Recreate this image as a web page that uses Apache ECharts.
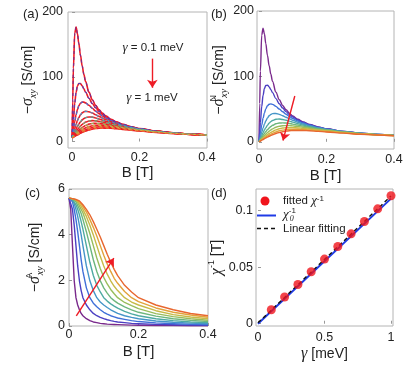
<!DOCTYPE html>
<html><head><meta charset="utf-8">
<script src="https://cdn.jsdelivr.net/npm/echarts@6/dist/echarts.min.js"></script>
<style>html,body{margin:0;padding:0;background:#fff}#c{width:409px;height:368px}</style>
</head><body><div id="c"></div>
<script>
// ---------- data ----------
const B_AB = [0,0.002,0.004,0.008,0.012,0.016,0.02,0.025,0.03,0.035,0.04,0.05,0.06,0.07,0.08,0.09,0.1,0.115,0.13,0.15,0.175,0.2,0.25,0.3,0.35,0.4];
// panel (a): total -sigma_xy, gamma = 0.1 ... 1 meV
const tot01 = [5.6,64.2,113.2,167.3,176.6,166.6,151.5,133.0,117.0,103.8,92.9,76.3,64.5,55.8,49.1,43.8,39.6,34.5,30.6,26.5,22.8,19.9,16.0,13.3,11.4,10.0];
const tot02 = [5.6,20.6,34.9,59.3,76.2,85.7,89.6,89.4,86.0,81.3,76.4,66.9,58.8,52.2,46.7,42.1,38.3,33.7,30.0,26.3,22.6,19.8,16.0,13.4,11.4,10.0];
const tot03 = [5.6,12.3,18.9,31.0,41.3,49.3,55.0,59.2,60.9,60.9,59.7,55.9,51.3,47.0,43.1,39.5,36.3,32.4,29.1,25.6,22.3,19.6,15.8,13.3,11.4,10.0];
const tot04 = [5.6,9.4,13.1,20.2,26.7,32.3,36.9,41.3,44.2,45.9,46.6,46.0,44.0,41.4,38.8,36.3,33.9,30.8,27.9,24.9,21.8,19.3,15.7,13.2,11.3,10.0];
const tot05 = [5.6,8.0,10.4,15.0,19.4,23.4,26.9,30.5,33.4,35.5,36.8,37.9,37.6,36.3,34.8,33.1,31.3,28.8,26.6,23.9,21.2,19.0,15.5,13.1,11.3,9.9];
const tot06 = [5.6,7.3,8.9,12.2,15.3,18.3,20.9,23.9,26.3,28.3,29.9,31.6,32.2,31.9,31.1,30.0,28.8,26.9,25.1,22.9,20.5,18.5,15.3,13.0,11.2,9.9];
const tot07 = [5.6,6.8,8.1,10.5,12.7,15.0,17.1,19.5,21.5,23.3,24.8,26.8,27.9,28.1,27.8,27.3,26.4,25.0,23.6,21.8,19.8,18.0,15.0,12.8,11.2,9.9];
const tot08 = [5.6,6.5,7.5,9.4,11.2,12.8,14.5,16.5,18.1,19.6,21.0,23.0,24.3,25.0,25.0,24.8,24.4,23.3,22.2,20.8,19.0,17.4,14.8,12.7,11.1,9.8];
const tot09 = [5.6,6.3,7.1,8.6,10.0,11.3,12.7,14.3,15.7,17.0,18.2,20.1,21.5,22.2,22.7,22.6,22.4,21.8,20.9,19.8,18.2,16.9,14.5,12.5,11.0,9.8];
const tot10 = [5.6,6.2,6.8,8.0,9.2,10.2,11.4,12.7,14.0,15.1,16.1,17.8,19.2,20.0,20.5,20.8,20.7,20.4,19.8,18.8,17.5,16.2,14.1,12.3,10.9,9.7];
// panel (b): normal part
const nor01 = [0,58.7,107.9,163.1,173.8,164.8,150.3,132.1,116.3,103.2,92.4,76.0,64.3,55.6,49.0,43.7,39.5,34.4,30.5,26.5,22.8,19.9,16.0,13.3,11.4,10.0];
const nor02 = [0,15.0,29.4,54.0,71.3,81.5,86.1,86.7,84.0,79.8,75.2,66.0,58.1,51.6,46.2,41.7,38.0,33.4,29.8,26.1,22.5,19.7,15.9,13.3,11.4,10.0];
const nor03 = [0,6.7,13.3,25.5,36.0,44.3,50.3,55.1,57.4,58.0,57.3,54.2,50.1,46.0,42.2,38.8,35.7,31.9,28.7,25.3,22.0,19.4,15.7,13.2,11.3,9.9];
const nor04 = [0,3.8,7.5,14.7,21.2,27.0,31.8,36.5,39.8,41.9,43.1,43.3,42.0,39.9,37.6,35.2,33.0,30.0,27.3,24.4,21.4,19.0,15.5,13.0,11.2,9.9];
const nor05 = [0,2.4,4.8,9.5,13.9,18.0,21.6,25.4,28.5,30.9,32.6,34.4,34.8,34.1,33.0,31.6,30.1,27.8,25.7,23.2,20.6,18.5,15.2,12.9,11.1,9.8];
const nor06 = [0,1.7,3.3,6.6,9.8,12.8,15.5,18.6,21.2,23.4,25.2,27.5,28.7,29.0,28.7,28.0,27.1,25.6,24.0,22.0,19.8,17.9,14.9,12.7,11.0,9.7];
const nor07 = [0,1.2,2.5,4.9,7.2,9.5,11.6,14.1,16.3,18.2,19.8,22.3,23.8,24.6,24.8,24.7,24.3,23.3,22.2,20.7,18.9,17.2,14.5,12.4,10.9,9.6];
const nor08 = [0,0.9,1.9,3.8,5.6,7.3,9.0,11.0,12.8,14.4,15.9,18.2,19.9,21.0,21.5,21.7,21.7,21.2,20.5,19.4,17.9,16.5,14.1,12.2,10.7,9.5];
const nor09 = [0,0.7,1.5,3.0,4.4,5.8,7.2,8.8,10.3,11.7,13.0,15.1,16.8,17.9,18.7,19.1,19.3,19.2,18.8,18.1,16.9,15.8,13.7,11.9,10.5,9.4];
const nor10 = [0,0.6,1.2,2.4,3.6,4.7,5.9,7.2,8.5,9.7,10.8,12.7,14.3,15.4,16.3,16.9,17.2,17.4,17.3,16.8,16.0,15.0,13.2,11.6,10.3,9.2];
// panel (c): anomalous part
const B_C = [0,0.005,0.01,0.015,0.02,0.025,0.03,0.035,0.04,0.05,0.06,0.07,0.08,0.09,0.1,0.11,0.12,0.13,0.14,0.16,0.18,0.2,0.25,0.3,0.35,0.4];
const ano01 = [5.6,5.11,3.52,1.98,1.24,0.92,0.71,0.55,0.45,0.32,0.235,0.177,0.146,0.116,0.098,0.083,0.072,0.066,0.06,0.048,0.038,0.033,0.024,0.018,0.014,0.01];
const ano02 = [5.6,5.52,5.11,4.41,3.52,2.63,1.98,1.55,1.24,0.92,0.71,0.55,0.45,0.376,0.32,0.274,0.235,0.204,0.177,0.146,0.116,0.098,0.069,0.054,0.039,0.033];
const ano03 = [5.6,5.56,5.44,5.11,4.67,4.13,3.52,2.90,2.39,1.67,1.24,1.00,0.84,0.71,0.60,0.52,0.45,0.40,0.35,0.29,0.235,0.194,0.136,0.098,0.074,0.064];
const ano04 = [5.6,5.575,5.52,5.36,5.11,4.80,4.41,3.99,3.52,2.63,1.98,1.55,1.24,1.05,0.92,0.81,0.71,0.63,0.55,0.45,0.376,0.32,0.22,0.162,0.124,0.098];
const ano05 = [5.6,5.58,5.54,5.48,5.31,5.11,4.87,4.57,4.24,3.52,2.79,2.21,1.78,1.49,1.24,1.09,0.97,0.87,0.78,0.64,0.53,0.45,0.32,0.235,0.177,0.146];
const ano06 = [5.6,5.585,5.56,5.52,5.44,5.28,5.11,4.93,4.67,4.13,3.52,2.90,2.39,1.98,1.67,1.44,1.24,1.11,1.00,0.84,0.71,0.60,0.43,0.32,0.245,0.194];
const ano07 = [5.6,5.59,5.57,5.54,5.50,5.40,5.26,5.11,4.96,4.52,4.05,3.52,2.98,2.52,2.13,1.84,1.60,1.41,1.24,1.03,0.89,0.76,0.54,0.41,0.32,0.25];
const ano08 = [5.6,5.59,5.575,5.55,5.52,5.46,5.36,5.24,5.11,4.80,4.41,3.99,3.52,3.05,2.63,2.27,1.98,1.74,1.55,1.24,1.05,0.92,0.67,0.50,0.395,0.32];
const ano09 = [5.6,5.59,5.58,5.56,5.53,5.505,5.44,5.34,5.23,4.99,4.67,4.32,3.94,3.52,3.10,2.72,2.39,2.09,1.87,1.51,1.24,1.07,0.79,0.60,0.48,0.384];
const ano10 = [5.6,5.59,5.58,5.565,5.54,5.52,5.48,5.41,5.31,5.11,4.87,4.57,4.24,3.90,3.52,3.14,2.79,2.48,2.21,1.78,1.49,1.24,0.92,0.71,0.55,0.45];
// panel (d)
const gammaFit = [0.1,0.2,0.3,0.4,0.5,0.6,0.7,0.8,0.9,1.0];
const chiInvFit = [0.0124,0.0236,0.0347,0.0459,0.0571,0.0682,0.0794,0.0903,0.1015,0.113];
const gammaLine = [0, 1];
const chi0Inv = [0, 0.1105];
const linFit = [0.0008, 0.1128];
// tick labels
const ticksB = [0, 0.2, 0.4];
const ticksAB_y = [0, 100, 200];
const ticksC_y = [0, 2, 4, 6];
const ticksD_x = [0, 0.5, 1];
const ticksD_y = [0, 0.05, 0.1];
// arrows (data coordinates)
const arrowA = [[0.238, 128], [0.238, 83]];
const arrowB = [[0.106, 70], [0.071, 2]];
const arrowC = [[0.021, 0.44], [0.129, 2.97]];

const TOT = [tot01,tot02,tot03,tot04,tot05,tot06,tot07,tot08,tot09,tot10];
const NOR = [nor01,nor02,nor03,nor04,nor05,nor06,nor07,nor08,nor09,nor10];
const ANO = [ano01,ano02,ano03,ano04,ano05,ano06,ano07,ano08,ano09,ano10];

// ---------- styling ----------
const RAINBOW = ['#7a2a8c','#4b3fc2','#3f70d8','#4595c8','#4eaaa2','#6db67c','#98bd5c','#c7ba47','#e2a33b','#e8672f'];
const RED = '#ee1c25';
const TXT = '#222';
const FRAME = '#b4b4b4';
const SANS = 'Liberation Sans';
const SERIF = 'Liberation Serif';
const rich = {
  t: {fontFamily: SANS, fontSize: 14, color: TXT, lineHeight: 20},
  g: {fontFamily: SERIF, fontStyle: 'italic', fontSize: 16, color: TXT, lineHeight: 20},
  sub: {fontFamily: SERIF, fontStyle: 'italic', fontSize: 10, color: TXT, lineHeight: 10, verticalAlign: 'bottom'},
  sup: {fontFamily: SANS, fontSize: 9, color: TXT, lineHeight: 10, verticalAlign: 'top'},
  supz: {fontFamily: SANS, fontSize: 9, color: TXT, lineHeight: 10, verticalAlign: 'top', width: 1}
};
const pairs = (xs, ys) => xs.map((x, i) => [x, ys[i]]);

function xAx(gi, min, max, ticks, name, gap, margin) {
  return {type: 'value', gridIndex: gi, min, max, name, nameLocation: 'middle', nameGap: gap,
    nameTextStyle: {fontFamily: SANS, fontSize: 15, color: TXT, rich},
    axisLine: {show: false}, splitLine: {show: false},
    axisTick: {show: true, inside: true, length: 3, customValues: ticks, lineStyle: {color: '#999'}},
    axisLabel: {customValues: ticks, margin, fontFamily: SANS, fontSize: 12.5, color: TXT}};
}
function yAx(gi, min, max, ticks, name, gap, margin) {
  return {type: 'value', gridIndex: gi, min, max, name, nameLocation: 'middle', nameGap: gap, nameRotate: 90,
    nameTextStyle: {fontFamily: SANS, fontSize: 14, color: TXT, rich},
    axisLine: {show: false}, splitLine: {show: false},
    axisTick: {show: true, inside: true, length: 3, customValues: ticks, lineStyle: {color: '#999'}},
    axisLabel: {customValues: ticks, margin, fontFamily: SANS, fontSize: 12.5, color: TXT}};
}
function arrowLine(a) {
  return {silent: true, symbol: ['none', 'arrow'], symbolSize: 8, animation: false,
    label: {show: false}, lineStyle: {color: RED, width: 1.4, type: 'solid'},
    emphasis: {disabled: true},
    data: [[{coord: a[0]}, {coord: a[1]}]]};
}
const lineBase = {type: 'line', showSymbol: false, smooth: 0.35, smoothMonotone: 'x', silent: true};

const series = [];
TOT.forEach((arr, i) => series.push(Object.assign({}, lineBase, {xAxisIndex: 0, yAxisIndex: 0, data: pairs(B_AB, arr),
  z: 2, lineStyle: {color: RED, width: 1.6},
  markLine: i === 0 ? arrowLine(arrowA) : undefined})));
TOT.forEach((arr, i) => series.push(Object.assign({}, lineBase, {xAxisIndex: 0, yAxisIndex: 0, data: pairs(B_AB, arr),
  z: 3, lineStyle: {color: RAINBOW[i], width: 1.1, type: [3, 3]}})));
NOR.forEach((arr, i) => series.push(Object.assign({}, lineBase, {xAxisIndex: 1, yAxisIndex: 1, data: pairs(B_AB, arr),
  lineStyle: {color: RAINBOW[i], width: 1.4},
  markLine: i === 9 ? arrowLine(arrowB) : undefined})));
ANO.forEach((arr, i) => series.push(Object.assign({}, lineBase, {xAxisIndex: 2, yAxisIndex: 2, data: pairs(B_C, arr),
  smooth: false, lineStyle: {color: RAINBOW[i], width: 1.4, join: 'round'},
  markLine: i === 9 ? arrowLine(arrowC) : undefined})));
series.push({type: 'line', xAxisIndex: 3, yAxisIndex: 3, data: pairs(gammaLine, chi0Inv), showSymbol: false,
  silent: true, lineStyle: {color: '#1f3be6', width: 2}});
series.push({type: 'line', xAxisIndex: 3, yAxisIndex: 3, data: pairs(gammaLine, linFit), showSymbol: false,
  silent: true, lineStyle: {color: '#111', width: 1.4, type: [4, 3]}});
series.push({type: 'scatter', xAxisIndex: 3, yAxisIndex: 3, data: pairs(gammaFit, chiInvFit), symbolSize: 9,
  silent: true, itemStyle: {color: '#f0141c'}, z: 5});

const gridBase = {show: true, borderColor: FRAME, borderWidth: 1, backgroundColor: 'transparent', containLabel: false};
const option = {
  animation: false,
  backgroundColor: '#fff',
  grid: [
    Object.assign({left: 68, top: 12, width: 139, height: 136}, gridBase),
    Object.assign({left: 257, top: 11, width: 137, height: 138}, gridBase),
    Object.assign({left: 69, top: 189, width: 139, height: 137}, gridBase),
    Object.assign({left: 256, top: 189, width: 137, height: 137}, gridBase)
  ],
  xAxis: [
    xAx(0, -0.012, 0.4, ticksB, 'B [T]', 13, 3),
    xAx(1, -0.006, 0.4, ticksB, 'B [T]', 19, 4),
    xAx(2, 0, 0.4, ticksB, 'B [T]', 18, 2),
    xAx(3, -0.015, 1.015, ticksD_x, '{g|γ}{t| [meV]}', 18, 5)
  ],
  yAxis: [
    yAx(0, -10, 200, ticksAB_y, '{t|−}{g|σ}{sub|xy}{t| [S/cm]}', 21, 5),
    yAx(1, -11, 200, ticksAB_y, '{t|−}{g|σ}{supz|N}{sub|xy}{t| [S/cm]}', 25, 3),
    yAx(2, 0, 6, ticksC_y, '{t|−}{g|σ}{supz|A}{sub|xy}{t| [S/cm]}', 24, 4),
    yAx(3, -0.002, 0.119, ticksD_y, '{g|χ}{sup|-1}{t| [T]}', 22, 3)
  ],
  series,
  graphic: [
    {type: 'rect', shape: {x: 69, y: 188, width: 139, height: 2}, style: {fill: '#d9d9d9'}, silent: true},
    {type: 'text', left: 23, top: 8, style: {text: '(a)', font: '13px "Liberation Sans"', fill: TXT}},
    {type: 'text', left: 211, top: 8, style: {text: '(b)', font: '13px "Liberation Sans"', fill: TXT}},
    {type: 'text', left: 25, top: 187, style: {text: '(c)', font: '13px "Liberation Sans"', fill: TXT}},
    {type: 'text', left: 211, top: 187, style: {text: '(d)', font: '13px "Liberation Sans"', fill: TXT}},
    {type: 'text', x: 153, y: 48, style: {text: '{i|γ} = 0.1 meV', fill: TXT, align: 'center', verticalAlign: 'middle',
      fontFamily: SANS, fontSize: 11.5, rich: {i: {fontFamily: SERIF, fontStyle: 'italic', fontSize: 13, fill: TXT}}}},
    {type: 'text', x: 152, y: 98, style: {text: '{i|γ} = 1 meV', fill: TXT, align: 'center', verticalAlign: 'middle',
      fontFamily: SANS, fontSize: 11.5, rich: {i: {fontFamily: SERIF, fontStyle: 'italic', fontSize: 13, fill: TXT}}}},
    // legend of (d)
    {type: 'circle', shape: {cx: 265, cy: 201, r: 4.5}, style: {fill: '#f0141c'}},
    {type: 'text', x: 283, y: 201, style: {text: 'fitted {i|χ}{s|-1}', fill: TXT, verticalAlign: 'middle',
      fontFamily: SANS, fontSize: 11.5, rich: {i: {fontFamily: SERIF, fontStyle: 'italic', fontSize: 13, fill: TXT},
      s: {fontFamily: SANS, fontSize: 8, fill: TXT, verticalAlign: 'top', lineHeight: 8}}}},
    {type: 'line', shape: {x1: 257, y1: 215.5, x2: 276, y2: 215.5}, style: {stroke: '#1f3be6', lineWidth: 2}},
    {type: 'text', x: 283, y: 215, style: {text: '{i|χ}{s|-1}{b|0}', fill: TXT, verticalAlign: 'middle',
      fontFamily: SANS, fontSize: 11, rich: {i: {fontFamily: SERIF, fontStyle: 'italic', fontSize: 13, fill: TXT, lineHeight: 16},
      s: {fontFamily: SANS, fontSize: 8, fill: TXT, verticalAlign: 'top', lineHeight: 8, width: 1},
      b: {fontFamily: SERIF, fontStyle: 'italic', fontSize: 8, fill: TXT, verticalAlign: 'bottom', lineHeight: 8}}}},
    {type: 'line', shape: {x1: 257, y1: 228.5, x2: 276, y2: 228.5}, style: {stroke: '#111', lineWidth: 1.4, lineDash: [4, 3]}},
    {type: 'text', x: 283, y: 228.5, style: {text: 'Linear fitting', fill: TXT, verticalAlign: 'middle',
      fontFamily: SANS, fontSize: 11.5}}
  ]
};
const chart = echarts.init(document.getElementById('c'), null, {renderer: 'canvas'});
chart.setOption(option);
</script>
</body></html>
